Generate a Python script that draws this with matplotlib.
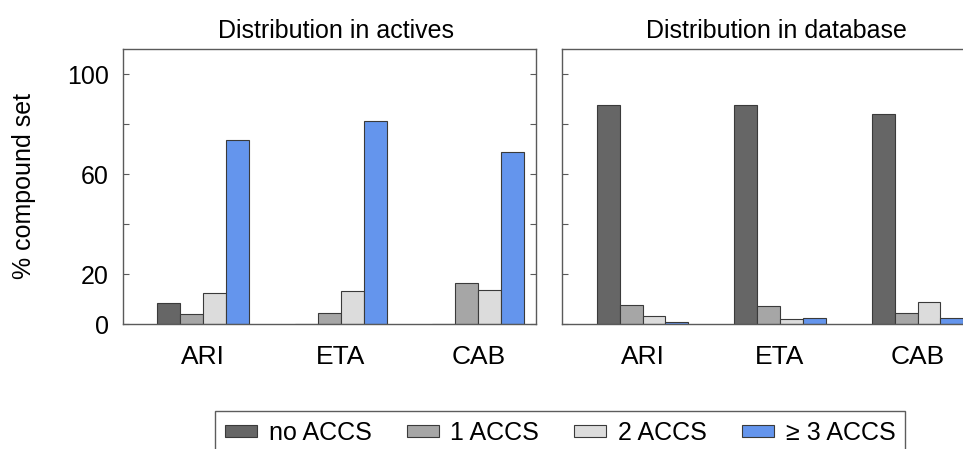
import matplotlib
matplotlib.use("Agg")
import matplotlib.pyplot as plt
import numpy as np

plt.rcParams['font.family'] = ['Liberation Sans', 'DejaVu Sans']

categories = ["ARI", "ETA", "CAB"]
series_names = ["no ACCS", "1 ACCS", "2 ACCS", "\u2265 3 ACCS"]
colors = ["#666666", "#a6a6a6", "#dcdcdc", "#6495ed"]

actives = {
    "no ACCS": [8.3, 0.0, 0.0],
    "1 ACCS": [4.1, 4.3, 16.5],
    "2 ACCS": [12.6, 13.4, 13.8],
    "\u2265 3 ACCS": [73.7, 81.4, 69.0],
}
database = {
    "no ACCS": [87.8, 87.8, 84.0],
    "1 ACCS": [7.5, 7.1, 4.5],
    "2 ACCS": [3.3, 2.1, 8.7],
    "\u2265 3 ACCS": [0.9, 2.5, 2.5],
}

yticks = [0, 20, 40, 60, 80, 100]
ytick_labels = ["0", "20", "", "60", "", "100"]

W, H = 963, 449
fig = plt.figure(figsize=(W / 100, H / 100), dpi=100)

def px_axes(x0, y0, x1, y1):
    return fig.add_axes([x0 / W, 1 - y1 / H, (x1 - x0) / W, (y1 - y0) / H])

ax1 = px_axes(122.7, 49.3, 535.7, 324)
ax2 = px_axes(562, 49.3, 975, 324)

x = np.arange(len(categories))
bw = 1 / 6
spine_col = "#5a5a5a"

for ax, data in [(ax1, actives), (ax2, database)]:
    for i, name in enumerate(series_names):
        ax.bar(x + (i - 1.5) * bw, data[name], width=bw, color=colors[i],
               edgecolor="#3a3a3a", linewidth=0.8, label=name, zorder=2)
    ax.set_xlim(-0.586, 2.418)
    ax.set_ylim(0, 110)
    ax.set_yticks(yticks)
    ax.set_xticks(x)
    ax.set_xticklabels(categories, fontsize=19)
    ax.tick_params(axis="x", length=0, pad=15)
    for s in ax.spines.values():
        s.set_color(spine_col)
        s.set_linewidth(1.0)

ax1.set_yticklabels(ytick_labels, fontsize=18)
ax1.tick_params(axis="y", direction="in", length=4, color=spine_col,
                left=True, right=True, pad=10)
ax2.set_yticklabels([])
ax2.tick_params(axis="y", direction="in", length=4, color=spine_col,
                left=True, right=True, labelleft=False)

fig.text(335.7 / W, 1 - 31 / H, "Distribution in actives", fontsize=18,
         ha="center", va="center")
fig.text(776 / W, 1 - 31 / H, "Distribution in database", fontsize=18,
         ha="center", va="center")
fig.text(24 / W, 1 - 186 / H, "% compound set", fontsize=18, rotation=90,
         ha="center", va="center")

handles, labels = ax1.get_legend_handles_labels()
leg = fig.legend(handles, labels, ncol=4, loc="upper left",
                 bbox_to_anchor=(215 / W, 1 - 411 / H), borderaxespad=0,
                 fontsize=18, frameon=True, fancybox=False,
                 handlelength=1.28, handleheight=0.4, handletextpad=0.47,
                 columnspacing=1.4, borderpad=0.4)
leg.get_frame().set_edgecolor("#333333")
leg.get_frame().set_linewidth(1.0)

fig.savefig("out.png", dpi=100)
